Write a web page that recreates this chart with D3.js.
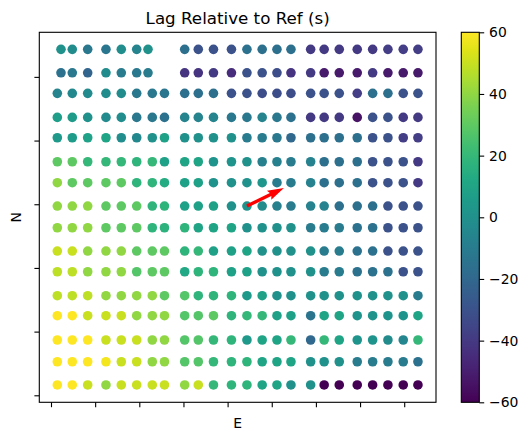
<!DOCTYPE html>
<html>
<head>
<meta charset="utf-8">
<script src="https://cdn.jsdelivr.net/npm/d3@7"></script>
<style>
  body { margin: 0; background: #fff; }
  svg { display: block; font-family: "DejaVu Sans", sans-serif; }
</style>
</head>
<body>
<div id="chart"></div>
<script>
/* Station positions (E, N) and lag values */

// E of each column (same for every row, except the two top rows)
var colE = [0.143, 0.482, 0.831, 1.245, 1.592, 1.941, 2.294, 2.570,
            3.028, 3.336, 3.680, 4.087, 4.438, 4.783, 5.118, 5.435,
            5.881, 6.187, 6.529, 6.936, 7.285, 7.631, 7.978, 8.311];
var topColE = [0.226, 0.482, 0.831, 1.245, 1.592, 1.941, 2.197,
               3.028, 3.336, 3.680, 4.087, 4.438, 4.783, 5.118, 5.435,
               5.881, 6.187, 6.529, 6.936, 7.285, 7.631, 7.978, 8.311];

// N of each row, top to bottom
var rowN = [5.432, 5.064, 4.741, 4.364, 4.044, 3.667, 3.338, 2.972,
            2.631, 2.265, 1.940, 1.564, 1.250, 0.868, 0.527, 0.162];

// lag (s), one list per row, top to bottom
var lag = [
  [0, -2, -12, -13, -1, -6, 0, -16, -30, -30, -30, -15, -16, -16, -16, -40, -40, -40, -40, -40, -38, -38, -38],
  [-15, -12, -22, -2, -10, -12, -10, -42, -42, -40, -45, -30, -30, -32, -42, -40, -52, -52, -52, -40, -52, -52, -52],
  [-6, -4, -3, -2, -2, -12, -12, -13, -16, -16, -16, -30, -30, -32, -32, -32, -30, -30, -30, -38, -16, -16, -30, -30],
  [7, 6, 0, -3, -1, -12, -12, -15, -6, -6, -6, -12, -12, -6, -12, -15, -40, -40, -40, -54, -30, -30, -40, -40],
  [5, 6, 9, 10, -1, -4, 0, 8, 0, 0, 0, 0, -10, -10, -12, -20, -16, -16, -16, -16, -30, -30, -38, -38],
  [30, 30, 20, 20, 20, 18, 20, 8, 10, 10, 2, 2, 0, -8, -8, -10, -7, -16, -16, -16, -30, -30, -30, -40],
  [40, 30, 30, 30, 30, 18, 18, 14, 8, 8, 1, 0, 0, 3, -10, -10, -7, -16, -16, -16, -30, -30, -30, -40],
  [40, 40, 40, 30, 30, 30, 18, 18, 8, 8, 8, 0, 0, -2, -8, -10, -7, -7, -16, -16, -16, -30, -30, -30],
  [40, 40, 40, 30, 30, 30, 18, 17, 18, 10, 10, 10, 0, 0, 0, 0, -10, -10, -10, -15, -15, -30, -30, -30],
  [50, 50, 40, 40, 40, 30, 30, 30, 18, 20, 8, 8, 10, 0, 0, 0, 0, -10, -10, -15, -15, -30, -30, -30],
  [48, 48, 40, 40, 40, 28, 30, 30, 12, 18, 18, 8, 8, 0, 0, 0, 0, -10, -10, -15, -15, -15, -30, -30],
  [48, 48, 48, 40, 40, 40, 40, 30, 28, 18, 18, 18, 5, 8, 0, 0, 0, 0, 0, 0, 0, 0, 0, -10],
  [60, 60, 50, 50, 50, 40, 40, 40, 28, 28, 30, 18, 20, 20, 8, 8, -14, 10, 10, 2, 2, 2, 2, 10],
  [60, 60, 60, 50, 50, 50, 40, 40, 28, 28, 20, 18, 5, 10, 10, 20, -20, 20, 10, 2, 2, -2, -5, 20],
  [60, 60, 60, 58, 50, 50, 40, 40, 28, 28, 20, 18, 18, 10, 10, 10, 0, 0, 0, -10, -10, -10, -10, -15],
  [60, 60, 50, 40, 50, 50, 50, 50, 40, 50, 20, 18, 18, 10, 10, 0, 0, -60, -60, -60, -60, -60, -60, -60]
];

// reference direction arrow: tail (E, N) and vector (dE, dN)
var arrowTail = [4.438, 2.972];
var arrowVec = [0.838, 0.283];

var xTicks = [0, 1, 2, 3, 4, 5, 6, 7, 8];
var yTicks = [0, 1, 2, 3, 4, 5];
var cbarTicks = [-60, -40, -20, 0, 20, 40, 60];
var lagRange = [-60, 60];

/* Build point list */
var points = [];
lag.forEach(function(row, i) {
    var cols = row.length === colE.length ? colE : topColE;
    row.forEach(function(v, j) {
        points.push({e: cols[j], n: rowN[i], v: v});
    });
});

var W = 528, H = 441;
var plot = {left: 39.3, right: 436, top: 32.3, bottom: 402.3};
var cbar = {left: 461.3, right: 479.3};

var svg = d3.select("#chart").append("svg")
    .attr("width", W)
    .attr("height", H);

var x = d3.scaleLinear().domain([-0.265, 8.72]).range([plot.left, plot.right]);
var y = d3.scaleLinear().domain([-0.11, 5.70]).range([plot.bottom, plot.top]);
var color = d3.scaleSequential(d3.interpolateViridis).domain(lagRange);

// dots
svg.append("g")
    .selectAll("circle")
    .data(points)
    .enter()
    .append("circle")
    .attr("cx", function(d) { return x(d.e); })
    .attr("cy", function(d) { return y(d.n); })
    .attr("r", 4.8)
    .attr("fill", function(d) { return color(d.v); });

// arrow, shaped like a matplotlib quiver arrow
var x0 = x(arrowTail[0]), y0 = y(arrowTail[1]);
var x1 = x(arrowTail[0] + arrowVec[0]), y1 = y(arrowTail[1] + arrowVec[1]);
var L = Math.hypot(x1 - x0, y1 - y0);
var ang = Math.atan2(y1 - y0, x1 - x0);
var w = 3.3;
var shape = [[0, -w / 2], [L - 4.5 * w, -w / 2], [L - 5 * w, -1.5 * w], [L, 0],
             [L - 5 * w, 1.5 * w], [L - 4.5 * w, w / 2], [0, w / 2]];
svg.append("polygon")
    .attr("points", shape.map(function(p) {
        var px = x0 + p[0] * Math.cos(ang) - p[1] * Math.sin(ang);
        var py = y0 + p[0] * Math.sin(ang) + p[1] * Math.cos(ang);
        return px + "," + py;
    }).join(" "))
    .attr("fill", "red");

// axes (ticks only, no labels)
var xAxis = d3.axisBottom(x).tickValues(xTicks).tickSize(4.9).tickFormat("");
var yAxis = d3.axisLeft(y).tickValues(yTicks).tickSize(4.9).tickFormat("");

svg.append("g")
    .attr("transform", "translate(0," + plot.bottom + ")")
    .call(xAxis)
    .call(function(g) { g.select(".domain").remove(); });
svg.append("g")
    .attr("transform", "translate(" + plot.left + ",0)")
    .call(yAxis)
    .call(function(g) { g.select(".domain").remove(); });

svg.selectAll(".tick line").attr("stroke", "#000").attr("stroke-width", 1.1);

// frame
svg.append("rect")
    .attr("x", plot.left)
    .attr("y", plot.top)
    .attr("width", plot.right - plot.left)
    .attr("height", plot.bottom - plot.top)
    .attr("fill", "none")
    .attr("stroke", "#000")
    .attr("stroke-width", 1.1);

// title and axis labels
svg.append("text")
    .attr("x", (plot.left + plot.right) / 2)
    .attr("y", 24)
    .attr("text-anchor", "middle")
    .attr("font-size", "16.7px")
    .text("Lag Relative to Ref (s)");

svg.append("text")
    .attr("x", (plot.left + plot.right) / 2)
    .attr("y", 428.4)
    .attr("text-anchor", "middle")
    .attr("font-size", "13.9px")
    .text("E");

svg.append("text")
    .attr("transform", "translate(21," + (plot.top + plot.bottom) / 2 + ") rotate(-90)")
    .attr("text-anchor", "middle")
    .attr("font-size", "13.9px")
    .text("N");

// colorbar
var defs = svg.append("defs");
var grad = defs.append("linearGradient")
    .attr("id", "viridis")
    .attr("x1", "0").attr("y1", "1")
    .attr("x2", "0").attr("y2", "0");
d3.range(0, 1.0001, 0.05).forEach(function(t) {
    grad.append("stop")
        .attr("offset", t)
        .attr("stop-color", d3.interpolateViridis(t));
});

var cy = d3.scaleLinear().domain(lagRange).range([plot.bottom, plot.top]);

svg.append("rect")
    .attr("x", cbar.left)
    .attr("y", plot.top)
    .attr("width", cbar.right - cbar.left)
    .attr("height", plot.bottom - plot.top)
    .attr("fill", "url(#viridis)")
    .attr("stroke", "#000")
    .attr("stroke-width", 1.1);

var cAxis = d3.axisRight(cy).tickValues(cbarTicks).tickSize(4.9).tickPadding(4.9);
svg.append("g")
    .attr("transform", "translate(" + cbar.right + ",0)")
    .call(cAxis)
    .call(function(g) {
        g.select(".domain").remove();
        g.selectAll(".tick line").attr("stroke", "#000").attr("stroke-width", 1.1);
        g.selectAll(".tick text")
            .attr("fill", "#000")
            .attr("font-size", "13.9px")
            .attr("font-family", "DejaVu Sans, sans-serif");
    });
</script>
</body>
</html>
